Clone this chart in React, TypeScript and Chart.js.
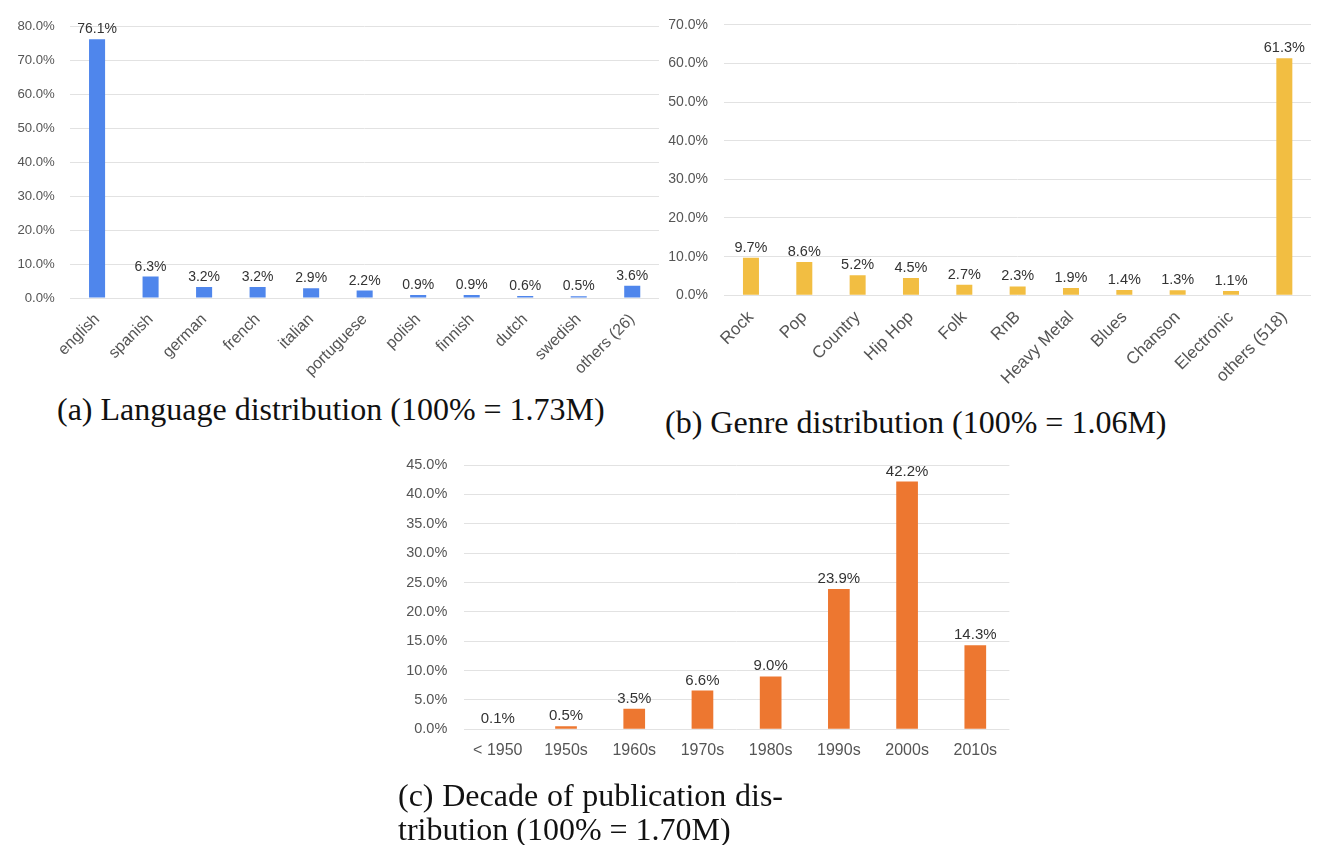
import React, { useEffect, useRef } from 'react';
import { Chart, registerables } from 'chart.js';

Chart.register(...registerables);

// ---------- data ----------
const langLabels = ['english', 'spanish', 'german', 'french', 'italian', 'portuguese', 'polish', 'finnish', 'dutch', 'swedish', 'others (26)'];
const langValues = [76.1, 6.3, 3.2, 3.2, 2.9, 2.2, 0.9, 0.9, 0.6, 0.5, 3.6];

const genreLabels = ['Rock', 'Pop', 'Country', 'Hip Hop', 'Folk', 'RnB', 'Heavy Metal', 'Blues', 'Chanson', 'Electronic', 'others (518)'];
const genreValues = [9.7, 8.6, 5.2, 4.5, 2.7, 2.3, 1.9, 1.4, 1.3, 1.1, 61.3];

const decadeLabels = ['< 1950', '1950s', '1960s', '1970s', '1980s', '1990s', '2000s', '2010s'];
const decadeValues = [0.1, 0.5, 3.5, 6.6, 9.0, 23.9, 42.2, 14.3];

const SANS = '"Liberation Sans", Arial, Helvetica, sans-serif';
const SERIF = '"Liberation Serif", "Times New Roman", serif';

const valueLabels = {
  id: 'valueLabels',
  afterDatasetsDraw(chart: any, _args: any, opts: any) {
    const { ctx } = chart;
    const meta = chart.getDatasetMeta(0);
    const data = chart.data.datasets[0].data as number[];
    ctx.save();
    ctx.font = `${opts.size}px ${SANS}`;
    ctx.fillStyle = opts.color;
    ctx.textAlign = 'center';
    ctx.textBaseline = 'alphabetic';
    meta.data.forEach((el: any, i: number) => {
      ctx.fillText(Number(data[i]).toFixed(1) + '%', el.x, el.y - 6);
    });
    ctx.restore();
  },
};

interface Cfg {
  left: number;
  top: number;
  width: number;
  height: number;
  labels: string[];
  values: number[];
  color: string;
  yMax: number;
  yStep: number;
  yAxisWidth: number;
  xAxisHeight: number;
  padTop: number;
  padRight: number;
  yTickPad: number;
  yFont: number;
  xFont: number;
  xRot: number;
  xPad: number;
  dataFont: number;
  barFrac: number;
}

function BarChart({ cfg }: { cfg: Cfg }) {
  const ref = useRef<HTMLCanvasElement | null>(null);
  useEffect(() => {
    if (!ref.current) return;
    const chart = new Chart(ref.current, {
      type: 'bar',
      data: {
        labels: cfg.labels,
        datasets: [
          {
            data: cfg.values,
            backgroundColor: cfg.color,
            borderWidth: 0,
            categoryPercentage: 1,
            barPercentage: cfg.barFrac,
          },
        ],
      },
      options: {
        responsive: false,
        animation: false,
        devicePixelRatio: 1,
        layout: { padding: { top: cfg.padTop, right: cfg.padRight, left: 0, bottom: 0 } },
        plugins: {
          legend: { display: false },
          tooltip: { enabled: false },
          title: { display: false },
          valueLabels: { size: cfg.dataFont, color: '#333333' },
        } as any,
        scales: {
          x: {
            grid: { display: false },
            border: { display: false },
            ticks: {
              autoSkip: false,
              minRotation: cfg.xRot,
              maxRotation: cfg.xRot,
              padding: cfg.xPad,
              color: '#555555',
              font: { size: cfg.xFont, family: SANS },
            },
            afterFit: (s: any) => {
              s.height = cfg.xAxisHeight;
            },
          },
          y: {
            min: 0,
            max: cfg.yMax,
            grid: { color: '#e2e2e2', drawTicks: false, lineWidth: 1 },
            border: { display: false },
            ticks: {
              stepSize: cfg.yStep,
              padding: cfg.yTickPad,
              color: '#555555',
              font: { size: cfg.yFont, family: SANS },
              callback: (v: any) => Number(v).toFixed(1) + '%',
            },
            afterFit: (s: any) => {
              s.width = cfg.yAxisWidth;
            },
          },
        },
      },
      plugins: [valueLabels as any],
    });
    return () => chart.destroy();
  }, [cfg]);
  return (
    <canvas
      ref={ref}
      width={cfg.width}
      height={cfg.height}
      style={{ position: 'absolute', left: cfg.left, top: cfg.top, width: cfg.width, height: cfg.height }}
    />
  );
}

const cfgA: Cfg = {
  left: 0, top: 0, width: 660, height: 380,
  labels: langLabels, values: langValues, color: '#4f86ec',
  yMax: 80, yStep: 10, yAxisWidth: 70.3, xAxisHeight: 82, padTop: 26, padRight: 1,
  yTickPad: 15.5, yFont: 13.2, xFont: 16, xRot: 45, xPad: 4, dataFont: 14, barFrac: 0.3,
};

const cfgB: Cfg = {
  left: 660, top: 0, width: 651, height: 400,
  labels: genreLabels, values: genreValues, color: '#f2be42',
  yMax: 70, yStep: 10, yAxisWidth: 64.3, xAxisHeight: 104.7, padTop: 18.3, padRight: 0,
  yTickPad: 16.3, yFont: 14, xFont: 17, xRot: 45, xPad: 4, dataFont: 14.5, barFrac: 0.3,
};

const cfgC: Cfg = {
  left: 400, top: 440, width: 610, height: 340,
  labels: decadeLabels, values: decadeValues, color: '#ed7730',
  yMax: 45, yStep: 5, yAxisWidth: 63.7, xAxisHeight: 50.7, padTop: 14.3, padRight: 0.6,
  yTickPad: 16.4, yFont: 14.5, xFont: 16, xRot: 0, xPad: 4, dataFont: 15, barFrac: 0.318,
};

const capStyle: React.CSSProperties = {
  position: 'absolute',
  fontFamily: SERIF,
  fontSize: 32,
  lineHeight: '32px',
  color: '#111',
  whiteSpace: 'nowrap',
};

export default function App() {
  return (
    <div style={{ position: 'absolute', left: 0, top: 0, width: 1325, height: 845, background: '#ffffff', overflow: 'hidden' }}>
      <BarChart cfg={cfgA} />
      <BarChart cfg={cfgB} />
      <BarChart cfg={cfgC} />
      <div style={{ ...capStyle, left: 57, top: 393 }}>(a) Language distribution (100% = 1.73M)</div>
      <div style={{ ...capStyle, left: 665, top: 406 }}>(b) Genre distribution (100% = 1.06M)</div>
      <div style={{ ...capStyle, left: 398, top: 779, width: 385, textAlign: 'justify', textAlignLast: 'justify' as any }}>
        (c) Decade of publication dis-
      </div>
      <div style={{ ...capStyle, left: 398, top: 813 }}>tribution (100% = 1.70M)</div>
    </div>
  );
}
